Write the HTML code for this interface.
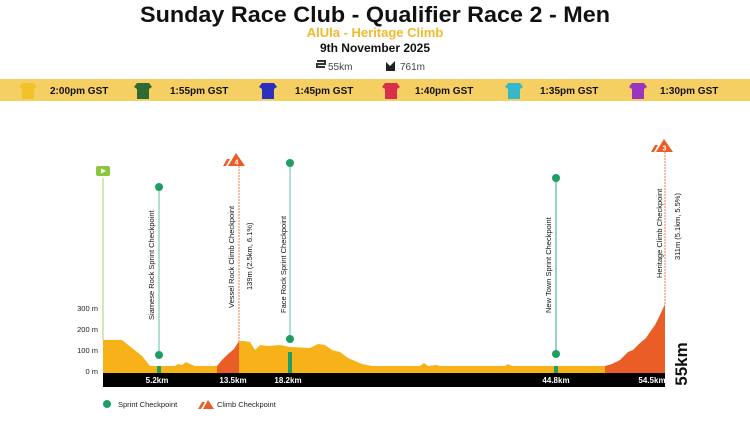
<!DOCTYPE html>
<html><head><meta charset="utf-8"><style>
html,body{margin:0;padding:0;background:#fff;width:750px;height:422px;overflow:hidden;font-family:"Liberation Sans",sans-serif}
</style></head><body>
<svg width="750" height="422" viewBox="0 0 750 422" xmlns="http://www.w3.org/2000/svg" font-family="Liberation Sans, sans-serif">
<text x="375" y="22" text-anchor="middle" font-size="22" font-weight="bold" fill="#111" textLength="470" lengthAdjust="spacingAndGlyphs">Sunday Race Club - Qualifier Race 2 - Men</text>
<text x="375" y="37" text-anchor="middle" font-size="13" font-weight="bold" fill="#f2b92b">AlUla - Heritage Climb</text>
<text x="375" y="52" text-anchor="middle" font-size="12" font-weight="bold" fill="#111">9th November 2025</text>
<g font-size="10" fill="#444">
<path d="M317 61h8v3h-8v3h8M317 64h8" stroke="#333" stroke-width="2" fill="none"/>
<text x="328" y="70">55km</text>
<path d="M386 71v-9l4 4 5-5v10z" fill="#222"/>
<text x="400" y="70">761m</text>
</g>
<rect x="0" y="79" width="750" height="22" fill="#f6cf62"/>
<g font-size="10" font-weight="bold" fill="#111">
<g><path d="M22 83h12l3 4-3 2v10h-12v-10l-3-2z" fill="#f2c22a"/><text x="50" y="94">2:00pm GST</text></g>
<g><path d="M137 83h12l3 4-3 2v10h-12v-10l-3-2z" fill="#2e6b34"/><text x="170" y="94">1:55pm GST</text></g>
<g><path d="M262 83h12l3 4-3 2v10h-12v-10l-3-2z" fill="#2a2fc0"/><text x="295" y="94">1:45pm GST</text></g>
<g><path d="M385 83h12l3 4-3 2v10h-12v-10l-3-2z" fill="#d9304a"/><text x="415" y="94">1:40pm GST</text></g>
<g><path d="M508 83h12l3 4-3 2v10h-12v-10l-3-2z" fill="#35b8cc"/><text x="540" y="94">1:35pm GST</text></g>
<g><path d="M632 83h12l3 4-3 2v10h-12v-10l-3-2z" fill="#9a35c0"/><text x="660" y="94">1:30pm GST</text></g>
</g>
<g font-size="7.5" fill="#222" text-anchor="end">
<text x="98" y="311">300 m</text><text x="98" y="332">200 m</text><text x="98" y="353">100 m</text><text x="98" y="374">0 m</text>
</g>
<line x1="103" y1="178" x2="103" y2="340" stroke="#a6d36a" stroke-width="1"/>
<rect x="96" y="166" width="14" height="10" rx="2" fill="#8cc63f"/>
<path d="M101 168.5l5 2.5-5 2.5z" fill="#fff"/>
<path d="M103 373V340H122L132 348L142 356L150 366H160L175 366L178 364L182 365L186 362L190 364L195 366H217V373Z" fill="#f7b21a"/>
<path d="M239 373V341H244L250 342L255 350L260 345L268 346L280 345L290 347L310 348L318 344L325 345L332 350L340 352L348 358L355 361L362 364L372 366L420 366L424 363L428 366L436 365L440 366L460 366L505 366L508 364L512 366L560 366L605 366V373Z" fill="#f7b21a"/>
<path d="M217 373V366L222 360L228 354L234 349L239 341V373Z" fill="#ea5d26"/>
<path d="M605 373V366L612 364L620 360L628 352L633 350L640 343L646 338L650 332L655 325L660 315L665 304V373Z" fill="#ea5d26"/>
<rect x="103" y="373" width="562" height="14" fill="#000"/>
<g font-size="8" font-weight="bold" fill="#fff" text-anchor="middle">
<text x="157" y="383">5.2km</text><text x="233" y="383">13.5km</text><text x="288" y="383">18.2km</text><text x="556" y="383">44.8km</text><text x="652" y="383">54.5km</text>
</g>
<text transform="translate(687,364) rotate(-90)" font-size="17" font-weight="bold" fill="#111" text-anchor="middle">55km</text>
<g>
<line x1="159" y1="187" x2="159" y2="355" stroke="#7ccbb8" stroke-width="1.2"/>
<rect x="157" y="366" width="4" height="7" fill="#1f9e63"/>
<circle cx="159" cy="187" r="4" fill="#1f9e63"/><circle cx="159" cy="355" r="4" fill="#1f9e63"/>
<line x1="290" y1="163" x2="290" y2="339" stroke="#7ccbb8" stroke-width="1.2"/>
<rect x="288" y="352" width="4" height="21" fill="#1f9e63"/>
<circle cx="290" cy="163" r="4" fill="#1f9e63"/><circle cx="290" cy="339" r="4" fill="#1f9e63"/>
<line x1="556" y1="178" x2="556" y2="354" stroke="#4fb98e" stroke-width="1.2"/>
<rect x="554" y="366" width="4" height="7" fill="#1f9e63"/>
<circle cx="556" cy="178" r="4" fill="#1f9e63"/><circle cx="556" cy="354" r="4" fill="#1f9e63"/>
</g>
<line x1="239" y1="166" x2="239" y2="341" stroke="#ef7a4a" stroke-width="1" stroke-dasharray="2,1"/>
<path d="M223 166l4-7h3l-4 7z" fill="#ea5d26"/><path d="M228 166l8-13 9 13z" fill="#ea5d26"/>
<text x="236.5" y="164.5" font-size="7" fill="#fff" font-weight="bold" text-anchor="middle">4</text>
<line x1="665" y1="152" x2="665" y2="304" stroke="#ef7a4a" stroke-width="1" stroke-dasharray="2,1"/>
<path d="M651 152l4-7h3l-4 7z" fill="#ea5d26"/><path d="M656 152l8-13 9 13z" fill="#ea5d26"/>
<text x="664.5" y="150.5" font-size="7" fill="#fff" font-weight="bold" text-anchor="middle">3</text>
<g font-size="7.5" fill="#111">
<text transform="translate(154,320) rotate(-90)">Siamese Rock Sprint Checkpoint</text>
<text transform="translate(234,308) rotate(-90)">Vessel Rock Climb Checkpoint</text>
<text transform="translate(252,290) rotate(-90)">139m (2.5km, 6.1%)</text>
<text transform="translate(286,313) rotate(-90)">Face Rock Sprint Checkpoint</text>
<text transform="translate(551,313) rotate(-90)">New Town Sprint Checkpoint</text>
<text transform="translate(662,278) rotate(-90)">Heritage Climb Checkpoint</text>
<text transform="translate(680,260) rotate(-90)">311m (5.1km, 5.5%)</text>
</g>
<circle cx="107" cy="404" r="4" fill="#1f9e63"/>
<text x="118" y="407" font-size="7.5" fill="#222">Sprint Checkpoint</text>
<path d="M198 409l4-7h3l-4 7z" fill="#ea5d26"/><path d="M203 409l5-9 6 9z" fill="#ea5d26"/>
<text x="217" y="407" font-size="7.5" fill="#222">Climb Checkpoint</text>
</svg>
</body></html>
